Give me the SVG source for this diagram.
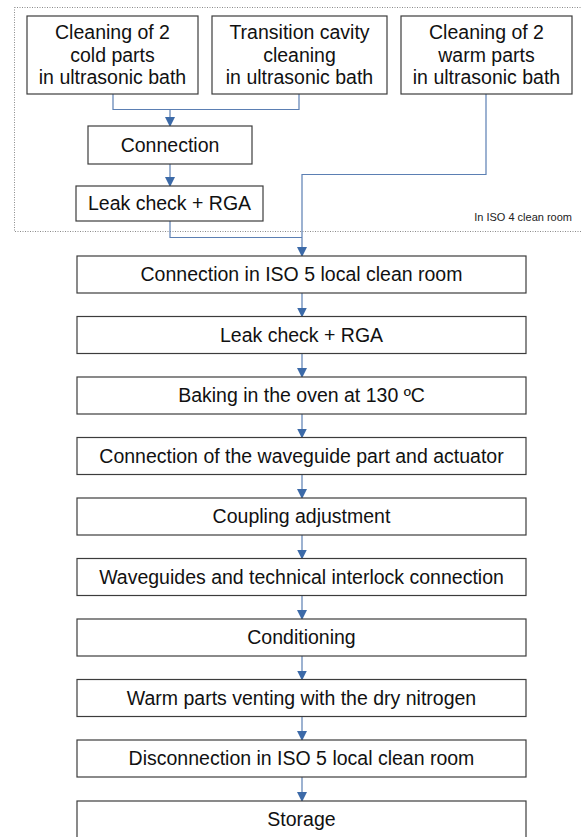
<svg xmlns="http://www.w3.org/2000/svg" width="581" height="837" viewBox="0 0 581 837">
<style>
.box{fill:#fff;stroke:#3c3c3c;stroke-width:1.2}
.t{font-family:"Liberation Sans",Arial,sans-serif;font-size:19.5px;fill:#111;text-anchor:middle}
.small{font-family:"Liberation Sans",Arial,sans-serif;font-size:11px;fill:#222;text-anchor:end}
.c{fill:none;stroke:#5b7fb3;stroke-width:1.2}
.zone{fill:none;stroke:#8a8a8a;stroke-width:1;stroke-dasharray:1,1.5}
</style>
<defs>
<marker id="ah" markerWidth="10" markerHeight="11" refX="9" refY="5" orient="auto" markerUnits="userSpaceOnUse" viewBox="0 0 10 10">
<path d="M0,0 L10,5 L0,10 Z" fill="#3c6aa8"/>
</marker>
</defs>
<rect class="zone" x="14.5" y="7.5" width="600" height="224"/>
<text class="small" x="572" y="221">In ISO 4 clean room</text>

<g id="connectors">
<path class="c" d="M113,94 V109.5 H299 V94"/>
<path class="c" d="M170,109.5 V126" marker-end="url(#ah)"/>
<path class="c" d="M170,164 V186" marker-end="url(#ah)"/>
<path class="c" d="M170,221 V237.5 H302"/>
<path class="c" d="M486,94 V174.5 H302 V256" marker-end="url(#ah)"/>
<path class="c" d="M302,293 V316.5" marker-end="url(#ah)"/>
<path class="c" d="M302,353.5 V377" marker-end="url(#ah)"/>
<path class="c" d="M302,414 V437.5" marker-end="url(#ah)"/>
<path class="c" d="M302,474.5 V498" marker-end="url(#ah)"/>
<path class="c" d="M302,535 V558.5" marker-end="url(#ah)"/>
<path class="c" d="M302,595.5 V619" marker-end="url(#ah)"/>
<path class="c" d="M302,656 V679.5" marker-end="url(#ah)"/>
<path class="c" d="M302,716.5 V740" marker-end="url(#ah)"/>
<path class="c" d="M302,777 V801" marker-end="url(#ah)"/>
</g>

<g id="cold">
<rect class="box" x="27" y="16" width="171" height="78"/>
<text class="t" x="112.5" y="39">Cleaning of 2</text>
<text class="t" x="112.5" y="61.5">cold parts</text>
<text class="t" x="112.5" y="84">in ultrasonic bath</text>
</g>
<g id="transition">
<rect class="box" x="212" y="16" width="175" height="78"/>
<text class="t" x="299.5" y="39">Transition cavity</text>
<text class="t" x="299.5" y="61.5">cleaning</text>
<text class="t" x="299.5" y="84">in ultrasonic bath</text>
</g>
<g id="warm">
<rect class="box" x="401" y="16" width="171" height="78"/>
<text class="t" x="486.5" y="39">Cleaning of 2</text>
<text class="t" x="486.5" y="61.5">warm parts</text>
<text class="t" x="486.5" y="84">in ultrasonic bath</text>
</g>
<g id="connection">
<rect class="box" x="88" y="126" width="164" height="38"/>
<text class="t" x="170" y="151.5">Connection</text>
</g>
<g id="leak1">
<rect class="box" x="76" y="186" width="187" height="35"/>
<text class="t" x="169.5" y="209.5">Leak check + RGA</text>
</g>

<g id="n1"><rect class="box" x="77" y="256" width="449" height="37"/><text class="t" x="301.5" y="281">Connection in ISO 5 local clean room</text></g>
<g id="n2"><rect class="box" x="77" y="316.5" width="449" height="37"/><text class="t" x="301.5" y="341.5">Leak check + RGA</text></g>
<g id="n3"><rect class="box" x="77" y="377" width="449" height="37"/><text class="t" x="301.5" y="402">Baking in the oven at 130 ºC</text></g>
<g id="n4"><rect class="box" x="77" y="437.5" width="449" height="37"/><text class="t" x="301.5" y="462.5">Connection of the waveguide part and actuator</text></g>
<g id="n5"><rect class="box" x="77" y="498" width="449" height="37"/><text class="t" x="301.5" y="523">Coupling adjustment</text></g>
<g id="n6"><rect class="box" x="77" y="558.5" width="449" height="37"/><text class="t" x="301.5" y="583.5">Waveguides and technical interlock connection</text></g>
<g id="n7"><rect class="box" x="77" y="619" width="449" height="37"/><text class="t" x="301.5" y="644">Conditioning</text></g>
<g id="n8"><rect class="box" x="77" y="679.5" width="449" height="37"/><text class="t" x="301.5" y="704.5">Warm parts venting with the dry nitrogen</text></g>
<g id="n9"><rect class="box" x="77" y="740" width="449" height="37"/><text class="t" x="301.5" y="765">Disconnection in ISO 5 local clean room</text></g>
<g id="n10"><rect class="box" x="77" y="801" width="449" height="37"/><text class="t" x="301.5" y="826">Storage</text></g>
</svg>
